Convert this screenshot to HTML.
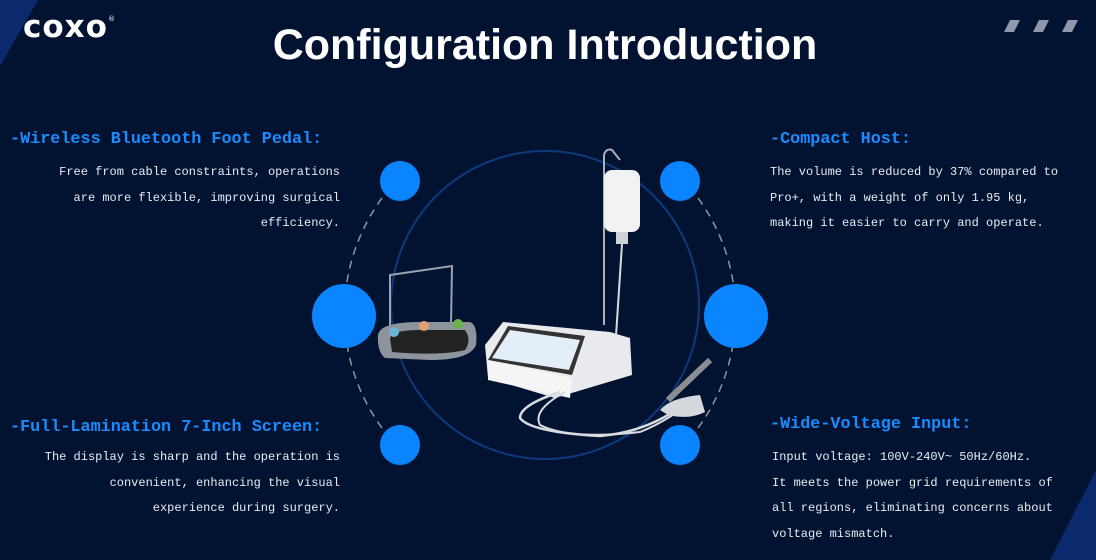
<!DOCTYPE html>
<html><head><meta charset="utf-8"><style>
body{margin:0;width:1096px;height:560px;overflow:hidden;background:#021331;position:relative;font-family:"Liberation Mono",monospace;}
.t{position:absolute;color:#e8ecf2;font-size:12px;line-height:25.5px;white-space:pre;}
.h{position:absolute;color:#1a8cff;font-weight:bold;font-size:16.8px;white-space:pre;}
</style></head><body>
<svg width="1096" height="560" style="position:absolute;left:0;top:0">
<polygon points="0,0 38,0 0,66" fill="#0b2a6e"/>
<polygon points="1096,470 1096,560 1050,560" fill="#0b2a6e"/>
<g fill="#8d98aa"><polygon points="1004,32 1010,20 1020,20 1014,32"/><polygon points="1033,32 1039,20 1049,20 1043,32"/><polygon points="1062,32 1068,20 1078,20 1072,32"/></g>
<circle cx="545" cy="305" r="154" fill="none" stroke="#0d3a7f" stroke-width="2"/>
<path d="M382,198 A195,195 0 0 0 382,428" fill="none" stroke="#8a95a8" stroke-width="1.5" stroke-dasharray="8 6"/>
<path d="M698,198 A195,195 0 0 1 698,428" fill="none" stroke="#8a95a8" stroke-width="1.5" stroke-dasharray="8 6"/>
<g fill="#0a84ff"><circle cx="400" cy="181" r="20"/><circle cx="680" cy="181" r="20"/><circle cx="400" cy="445" r="20"/><circle cx="680" cy="445" r="20"/><circle cx="344" cy="316" r="32"/><circle cx="736" cy="316" r="32"/></g>
<!-- foot pedal -->
<path d="M390,330 L390,275 L452,266 L451,325" fill="none" stroke="#9aa3ad" stroke-width="2"/>
<path d="M378,335 Q380,322 420,322 L470,322 Q478,325 476,345 Q470,360 430,360 L385,358 Q377,352 378,335Z" fill="#8e949c"/>
<path d="M390,338 Q392,330 420,330 L465,330 Q472,340 465,350 Q440,356 392,352Z" fill="#222"/>
<circle cx="394" cy="332" r="5" fill="#6cb4d8"/><circle cx="424" cy="326" r="5" fill="#e0a070"/><circle cx="458" cy="324" r="5" fill="#6ab34a"/>
<!-- IV pole & bag -->
<path d="M604,325 L604,155 Q606,148 612,150 L620,160" fill="none" stroke="#aab0b8" stroke-width="2"/>
<rect x="604" y="170" width="36" height="62" rx="8" fill="#f2f2f2"/>
<rect x="616" y="232" width="12" height="12" fill="#cfd3d8"/>
<line x1="622" y1="244" x2="616" y2="336" stroke="#d8dce0" stroke-width="2"/>
<!-- host -->
<path d="M485,345 L503,322 L610,332 L630,338 L632,375 L555,398 L488,378Z" fill="#e8eaee"/>
<path d="M488,360 L508,326 L585,336 L572,375Z" fill="#333"/>
<path d="M492,358 L510,330 L580,340 L569,370Z" fill="#e4eef8"/>
<path d="M488,360 L572,378 L570,398 L488,380Z" fill="#f5f5f5"/>
<!-- cables -->
<path d="M560,392 Q520,405 520,418 Q530,432 600,436 Q650,432 690,400" fill="none" stroke="#d8dbe0" stroke-width="2.5"/>
<path d="M565,392 Q532,410 540,425 Q570,440 640,432 Q670,420 695,398" fill="none" stroke="#d8dbe0" stroke-width="2"/>
<path d="M660,410 Q670,398 700,395 L705,412 Q690,420 668,415Z" fill="#d5d8dc"/>
<line x1="668" y1="400" x2="710" y2="360" stroke="#8b8e90" stroke-width="6"/>
</svg>
<div style="position:absolute;left:23px;top:9px;color:#fff;font-family:'DejaVu Sans',sans-serif;font-weight:bold;font-size:31px;letter-spacing:1px">coxo<span style="font-size:7px;vertical-align:top;font-weight:normal;position:relative;top:6px">®</span></div>
<div style="position:absolute;left:0;width:1090px;top:21px;text-align:center;color:#fff;font-family:'Liberation Sans',sans-serif;font-weight:bold;font-size:43px">Configuration Introduction</div>
<div class="h" style="left:10px;top:130px">-Wireless Bluetooth Foot Pedal:</div>
<div class="t" style="right:756px;top:160px;text-align:right">Free from cable constraints, operations
are more flexible, improving surgical
efficiency.</div>
<div class="h" style="left:770px;top:130px">-Compact Host:</div>
<div class="t" style="left:770px;top:160px">The volume is reduced by 37% compared to
Pro+, with a weight of only 1.95 kg,
making it easier to carry and operate.</div>
<div class="h" style="left:10px;top:418px">-Full-Lamination 7-Inch Screen:</div>
<div class="t" style="right:756px;top:445px;text-align:right">The display is sharp and the operation is
convenient, enhancing the visual
experience during surgery.</div>
<div class="h" style="left:770px;top:415px">-Wide-Voltage Input:</div>
<div class="t" style="left:772px;top:445px">Input voltage: 100V-240V~ 50Hz/60Hz.
It meets the power grid requirements of
all regions, eliminating concerns about
voltage mismatch.</div>
</body></html>
